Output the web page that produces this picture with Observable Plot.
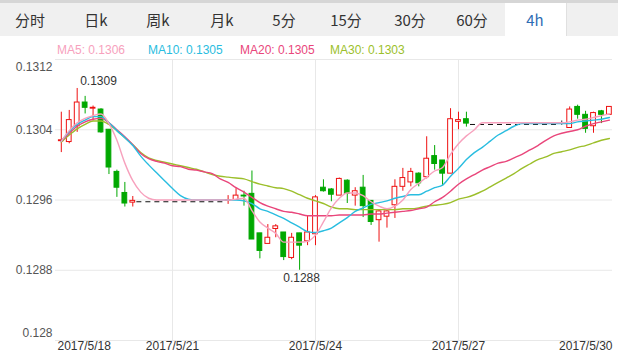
<!DOCTYPE html>
<html><head><meta charset="utf-8">
<script src="https://cdn.jsdelivr.net/npm/d3@7"></script>
<script src="https://cdn.jsdelivr.net/npm/@observablehq/plot@0.6"></script>
<style>
body{margin:0;background:#fff;}
#wrap{position:relative;width:618px;height:354px;overflow:hidden;font-family:"Liberation Sans",Arial,sans-serif;}
#chart{position:absolute;left:0;top:0;}
#tabs{position:absolute;left:0;top:0;width:618px;height:36px;background:#f0f0f0;border-top:3px solid #d6d6d6;box-sizing:border-box;}
.tab{position:absolute;top:0;height:33px;line-height:33px;font-family:"Noto Sans CJK SC",sans-serif;font-size:15px;color:#333;transform:translateX(-50%);white-space:nowrap;}
#sel{position:absolute;left:505px;top:0;width:61px;height:33px;background:#fff;border-right:1px solid #e0e0e0;}
#legend span{position:absolute;top:43px;font-size:12px;line-height:14px;white-space:nowrap;}
</style></head>
<body>
<div id="wrap">
  <div id="chart"></div>
  <div id="tabs"><div id="sel"></div></div>
  <div id="legend"></div>
</div>
<script>
// ---- data ----
const tabNames = ["分时","日k","周k","月k","5分","15分","30分","60分","4h"];
const tabCenters = [30, 96, 158, 222, 284, 346, 410, 472, 535];
const selectedTab = "4h";

const candleIdx = [4,5,6,7,8,9,10,11,12,13,
  25,26,27,28,29,30,31,32,33,34,35,36,37,38,39,40,41,42,43,44,45,46,47,48,49,50,51,52,53,54,55,
  67,68,69,70,71,72,73];
const open = [0.13027,0.13026,0.13044,0.13071,0.13064,0.13063,0.13040,0.12992,0.12968,0.12957,
  0.12959,0.12960,0.12965,0.12967,0.12922,0.12910,0.12927,0.12923,0.12894,0.12922,0.12913,0.12921,
  0.12974,0.12972,0.12965,0.12982,0.12965,0.12974,0.12959,0.12937,0.12941,0.12954,0.12975,0.12980,
  0.12990,0.12986,0.13010,0.13005,0.12990,0.13049,0.13052,
  0.13047,0.13042,0.13066,0.13057,0.13044,0.13061,0.13057];
const high = [0.13060,0.13062,0.13087,0.13078,0.13067,0.13064,0.13040,0.12994,0.12980,0.12964,
  0.12965,0.12973,0.12970,0.12993,0.12922,0.12932,0.12932,0.12923,0.12922,0.12922,0.12942,0.12965,
  0.12983,0.12973,0.12985,0.12983,0.12974,0.12988,0.12959,0.12948,0.12948,0.12983,0.12996,0.12996,
  0.12991,0.13032,0.13022,0.13005,0.13064,0.13060,0.13060,
  0.13050,0.13066,0.13068,0.13061,0.13060,0.13062,0.13066];
const low = [0.13014,0.13024,0.13037,0.13058,0.13050,0.13036,0.12989,0.12963,0.12952,0.12952,
  0.12955,0.12960,0.12953,0.12915,0.12893,0.12910,0.12917,0.12891,0.12892,0.12880,0.12908,0.12908,
  0.12969,0.12958,0.12965,0.12956,0.12953,0.12940,0.12931,0.12912,0.12928,0.12939,0.12970,0.12975,
  0.12975,0.12984,0.12994,0.12976,0.12990,0.13040,0.13043,
  0.13045,0.13042,0.13052,0.13036,0.13036,0.13047,0.13057];
const close = [0.13028,0.13051,0.13071,0.13065,0.13065,0.13037,0.12997,0.12974,0.12956,0.12959,
  0.12960,0.12965,0.12964,0.12915,0.12902,0.12917,0.12930,0.12895,0.12917,0.12908,0.12923,0.12963,
  0.12970,0.12966,0.12984,0.12967,0.12970,0.12953,0.12935,0.12947,0.12947,0.12975,0.12985,0.12992,
  0.12979,0.13007,0.13001,0.12990,0.13052,0.13051,0.13047,
  0.13047,0.13063,0.13057,0.13041,0.13059,0.13057,0.13066];

// market-closed stretches (flat price), drawn dashed
const gapFrom = [13, 55];
const gapTo = [25, 67];
const gapLevel = [0.12958, 0.13046];

// moving averages, one value per bar starting at bar 4
const maStart = 4;
const ma5 = [0.13027,0.13039,0.13048,0.13053,0.13056,0.13058,0.13047,0.13028,0.13002,0.12982,
  0.12969,0.12962,0.12960,0.12960,0.12960,0.12960,0.12960,0.12960,0.12960,0.12960,0.12960,0.12960,
  0.12961,0.12962,0.12948,0.12935,0.12928,0.12922,0.12912,0.12912,0.12912,0.12913,0.12920,0.12935,
  0.12951,0.12962,0.12968,0.12968,0.12965,0.12958,0.12953,0.12950,0.12953,0.12960,0.12972,0.12979,
  0.12986,0.12993,0.12997,0.13012,0.13024,0.13033,0.13040,0.13048,
  0.13048,0.13048,0.13048,0.13048,0.13048,0.13048,0.13048,0.13048,0.13048,0.13048,
  0.13049,0.13051,0.13052,0.13054,0.13056,0.13058];
const ma10 = [0.13027,0.13038,0.13046,0.13051,0.13055,0.13055,0.13048,0.13039,0.13031,0.13022,
  0.13010,0.13000,0.12991,0.12982,0.12973,0.12965,0.12961,0.12960,0.12960,0.12960,0.12960,0.12960,
  0.12960,0.12959,0.12956,0.12950,0.12947,0.12943,0.12939,0.12934,0.12929,0.12924,0.12923,0.12925,
  0.12928,0.12934,0.12940,0.12947,0.12951,0.12955,0.12957,0.12959,0.12962,0.12964,0.12966,0.12966,
  0.12970,0.12974,0.12977,0.12987,0.12996,0.13006,0.13014,0.13020,0.13027,0.13034,0.13039,0.13044,
  0.13047,0.13047,0.13047,0.13047,0.13047,0.13047,0.13047,
  0.13049,0.13050,0.13051,0.13052,0.13054];
const ma20 = [0.13027,0.13036,0.13044,0.13049,0.13052,0.13053,0.13048,0.13040,0.13032,0.13023,
  0.13013,0.13007,0.13004,0.13002,0.12999,0.12998,0.12995,0.12994,0.12992,0.12990,0.12984,0.12980,
  0.12974,0.12969,0.12963,0.12957,0.12953,0.12950,0.12947,0.12946,0.12944,0.12942,0.12942,0.12942,
  0.12942,0.12943,0.12943,0.12943,0.12943,0.12944,0.12944,0.12945,0.12946,0.12947,0.12948,0.12950,
  0.12952,0.12958,0.12963,0.12970,0.12978,0.12984,0.12989,0.12994,0.12998,0.13002,0.13004,0.13008,
  0.13012,0.13017,0.13022,0.13028,0.13033,0.13036,0.13038,0.13040,0.13044,0.13047,0.13049,0.13051];
const ma30 = [0.13026,0.13034,0.13041,0.13046,0.13050,0.13050,0.13046,0.13039,0.13031,0.13023,
  0.13014,0.13008,0.13005,0.13003,0.13001,0.12999,0.12997,0.12995,0.12992,0.12989,0.12987,0.12986,
  0.12985,0.12984,0.12981,0.12978,0.12976,0.12974,0.12973,0.12970,0.12966,0.12962,0.12959,0.12956,
  0.12952,0.12950,0.12950,0.12949,0.12949,0.12949,0.12949,0.12949,0.12949,0.12950,0.12950,0.12951,
  0.12953,0.12954,0.12955,0.12957,0.12961,0.12963,0.12966,0.12970,0.12975,0.12980,0.12985,0.12990,
  0.12996,0.13001,0.13006,0.13009,0.13013,0.13015,0.13017,0.13020,0.13022,0.13025,0.13028,0.13030];
const maNames = ["MA5","MA10","MA20","MA30"];
const maColors = ["#f7a1bd","#29bde0","#e9467b","#9cbf2b"];
const legendLeft = [57, 148, 240, 330];

const yTickValues = [0.128, 0.1288, 0.1296, 0.1304, 0.1312];
const yTickLabels = ["0.128","0.1288","0.1296","0.1304","0.1312"];
const xTickIdx = [0, 18, 36, 54, 72];
const xTickLabels = ["2017/5/18","2017/5/21","2017/5/24","2017/5/27","2017/5/30"];

// ---- build ----
const UP = "#ee1111", DOWN = "#00a800", FLAT = "#333";
const candles = candleIdx.map((i, k) => ({i, open: open[k], high: high[k], low: low[k], close: close[k]}));
const colorOf = d => d.close > d.open ? UP : d.close < d.open ? DOWN : FLAT;
const maSeries = [ma5, ma10, ma20, ma30];
const maRows = maSeries.flatMap((arr, s) => arr.map((v, k) => ({i: maStart + k, v, s})));
const gaps = gapFrom.map((f, k) => ({from: f, to: gapTo[k], level: gapLevel[k]}));
const yTicks = yTickValues.map((v, k) => ({v, label: yTickLabels[k]}));
const xTicks = xTickIdx.map((i, k) => ({i, label: xTickLabels[k]}));
const maxC = candles.reduce((a, b) => b.high > a.high ? b : a);
const minC = candles.reduce((a, b) => b.low < a.low ? b : a);
const bw = 0.3;

const chart = Plot.plot({
  width: 618, height: 354,
  marginLeft: 55, marginRight: 6, marginTop: 59, marginBottom: 14,
  x: {domain: [3.27, 73.39], axis: null},
  y: {domain: [0.128, 0.1312], axis: null},
  color: {type: "identity"},
  style: {fontFamily: "'Liberation Sans', Arial, sans-serif", fontSize: "12px", background: "transparent", overflow: "visible"},
  marks: [
    Plot.ruleY(yTicks, {y: "v", stroke: "#e8e8e8"}),
    Plot.ruleX(xTicks.slice(1, 4), {x: "i", stroke: "#e8e8e8"}),
    Plot.link(gaps, {x1: d => d.from + 0.45, x2: d => d.to - 0.45, y1: "level", y2: "level",
      stroke: "#111", strokeWidth: 1, strokeDasharray: "5,4"}),
    Plot.ruleX(candles, {x: "i", y1: "low", y2: "high", stroke: colorOf, strokeWidth: 1}),
    Plot.rect(candles, {x1: d => d.i - bw, x2: d => d.i + bw, y1: "open", y2: "close",
      fill: d => d.close > d.open ? "#fff" : colorOf(d), stroke: colorOf, strokeWidth: 1}),
    ...[3, 2, 1, 0].map(s => Plot.line(maRows.filter(d => d.s === s),
      {x: "i", y: "v", stroke: maColors[s], strokeWidth: 1.4, curve: "monotone-x"})),
    // y labels
    Plot.text(yTicks.slice(1, 4), {y: "v", text: "label", frameAnchor: "left", textAnchor: "end", dx: -3, fill: "#555"}),
    Plot.text(yTicks.slice(4), {y: "v", text: "label", frameAnchor: "left", textAnchor: "end", dx: -3, dy: 8, fill: "#555"}),
    Plot.text(yTicks.slice(0, 1), {y: "v", text: "label", frameAnchor: "left", textAnchor: "end", dx: -3, dy: -7, fill: "#555"}),
    // x labels
    Plot.text(xTicks.slice(1, 4), {x: "i", text: "label", frameAnchor: "bottom", dy: 9, fill: "#333"}),
    Plot.text(xTicks.slice(0, 1), {text: "label", frameAnchor: "bottom-left", textAnchor: "start", dx: 2, dy: 9, fill: "#333"}),
    Plot.text(xTicks.slice(4), {text: "label", frameAnchor: "bottom-right", textAnchor: "end", dx: 0, dy: 9, fill: "#333"}),
    // extreme annotations
    Plot.text([maxC], {x: "i", y: "high", text: d => d3.format(".4f")(d.high), textAnchor: "start", dx: 3, dy: -7, fill: "#333"}),
    Plot.text([minC], {x: "i", y: "low", text: d => d3.format(".4f")(d.low), dx: 2, dy: 8, fill: "#333"})
  ]
});
document.getElementById("chart").appendChild(chart);

// tabs
const tabs = document.getElementById("tabs");
tabNames.forEach((t, k) => {
  const s = document.createElement("div");
  s.className = "tab";
  s.style.left = tabCenters[k] + "px";
  s.textContent = t;
  if (t === selectedTab) s.style.color = "#2e6db4";
  tabs.appendChild(s);
});
// legend
const legend = document.getElementById("legend");
maNames.forEach((n, k) => {
  const s = document.createElement("span");
  s.style.left = legendLeft[k] + "px";
  s.style.color = maColors[k];
  const arr = maSeries[k];
  s.textContent = n + ": " + arr[arr.length - 1].toFixed(4);
  legend.appendChild(s);
});
</script>
</body></html>
